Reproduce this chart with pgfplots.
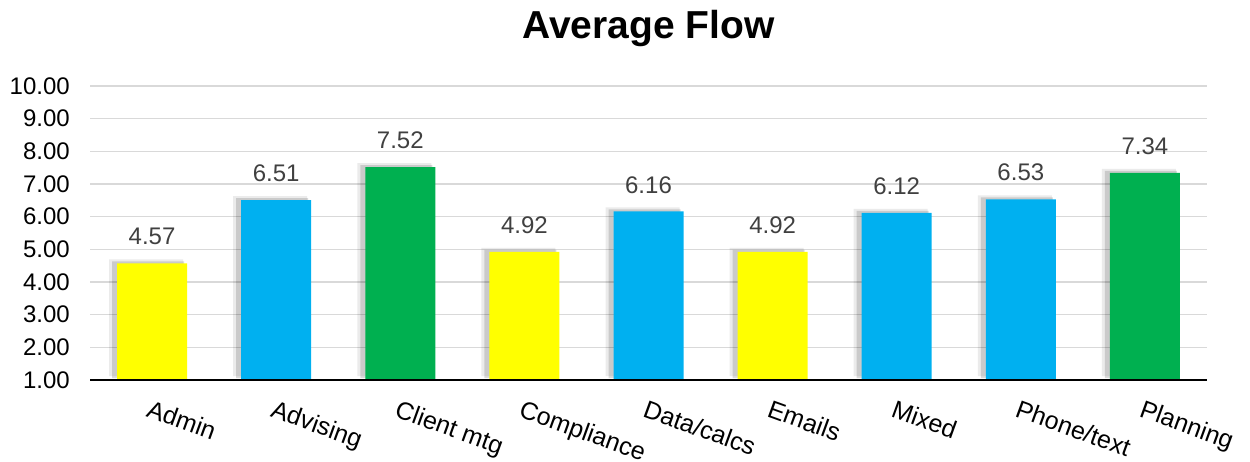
\documentclass[border=0pt]{standalone}
\usepackage{fontspec}
\setmainfont{Liberation Sans}
\usepackage{pgfplots}
\pgfplotsset{compat=1.18}
\usetikzlibrary{calc}

\definecolor{cyel}{HTML}{FFFF00}
\definecolor{cblue}{HTML}{00B0F0}
\definecolor{cgreen}{HTML}{00B050}
\definecolor{gridgray}{HTML}{D9D9D9}
\definecolor{lblgray}{HTML}{404040}

% all nine values, used for the soft shadow behind the bars
\pgfplotstableread{
x y
0 4.57
1 6.51
2 7.52
3 4.92
4 6.16
5 4.92
6 6.12
7 6.53
8 7.34
}\alldata

\pgfplotsset{
  shadowbar/.style={fill=black, draw=none, fill opacity=#1, bar shift=-3pt, forget plot},
  realbar/.style={fill=#1, draw=none, bar shift=0pt,
    nodes near coords,
    nodes near coords style={font=\fontsize{24}{26}\selectfont, text=lblgray, inner sep=0pt, anchor=south, yshift=18pt,
        /pgf/number format/fixed, /pgf/number format/fixed zerofill, /pgf/number format/precision=2}},
}

\begin{document}
\begin{tikzpicture}
\begin{axis}[
    scale only axis,
    width=1117pt, height=294pt,
    ymin=1, ymax=10,
    xmin=-0.5, xmax=8.5,
    ytick={1,2,...,10},
    yticklabel={\pgfmathprintnumber[fixed,fixed zerofill,precision=2]{\tick}},
    /pgf/number format/assume math mode=true,
    xtick={0,...,8},
    xticklabels={Admin,Advising,Client mtg,Compliance,Data/calcs,Emails,Mixed,Phone/text,Planning},
    xticklabel style={rotate=-20, anchor=north west, inner sep=0pt, xshift=6pt, yshift=-18pt, font=\fontsize{25}{27}\selectfont},
    yticklabel style={inner sep=0pt, xshift=-20pt, font=\fontsize{24}{26}\selectfont},
    tick label style={black},
    major tick length=0pt,
    ymajorgrids,
    grid style={gridgray, line width=1.3pt},
    axis line style={draw=none},
    ybar, bar width=70pt,
    title={\fontsize{39}{44}\selectfont\bfseries Average Flow},
    title style={at={(0.5,1)}, anchor=south, yshift=33pt, inner sep=0pt},
]
\addplot[shadowbar=0.08, bar width=74pt, bar shift=-6pt, yshift=4pt] table {\alldata};
\addplot[shadowbar=0.14, bar width=72pt, bar shift=-4pt, yshift=2pt] table {\alldata};
\addplot[realbar=cyel] coordinates {(0,4.57) (3,4.92) (5,4.92)};
\addplot[realbar=cblue] coordinates {(1,6.51) (4,6.16) (6,6.12) (7,6.53)};
\addplot[realbar=cgreen] coordinates {(2,7.52) (8,7.34)};
\draw[black, line width=2pt] (rel axis cs:0,0) -- (rel axis cs:1,0);
\coordinate (bl) at (rel axis cs:0,0);
\coordinate (tr) at (rel axis cs:1,1);
\end{axis}
\pgfresetboundingbox
\path ($(bl)+(-90pt,-81pt)$) rectangle ($(tr)+(43pt,86pt)$);
\end{tikzpicture}
\end{document}
